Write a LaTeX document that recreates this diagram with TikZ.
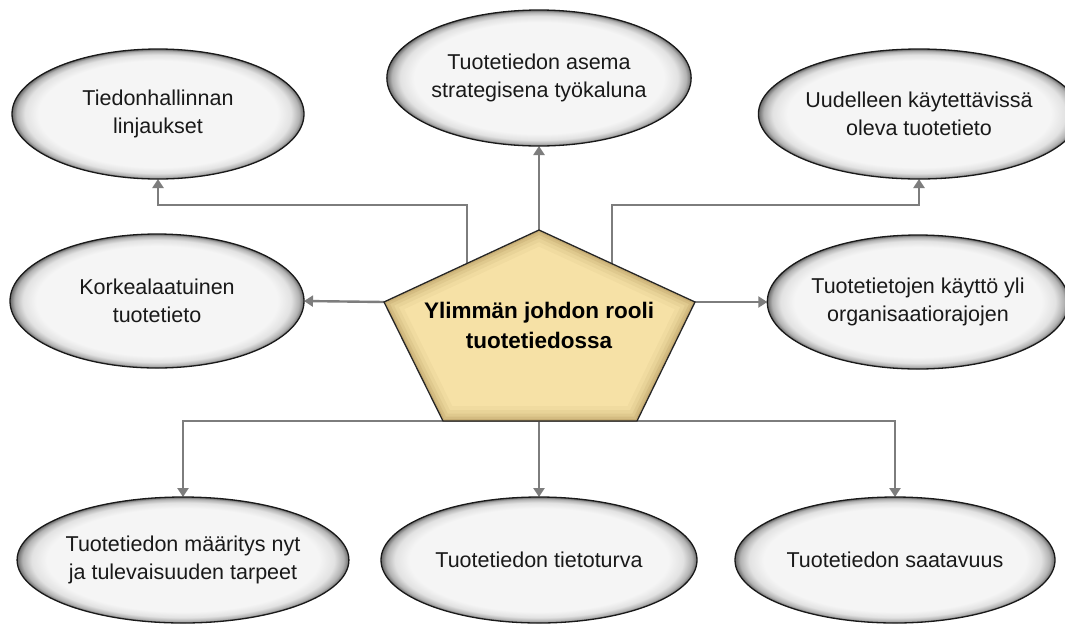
\documentclass[tikz,border=0pt]{standalone}
\usepackage{fontspec}
\setmainfont{Liberation Sans}
\usetikzlibrary{shapes.geometric,arrows.meta,backgrounds}

\definecolor{ovalin}{RGB}{245,245,245}
\definecolor{ovalmid}{RGB}{226,226,226}
\definecolor{ovaldark}{RGB}{178,178,178}
\definecolor{ovalout}{RGB}{105,105,105}
\definecolor{hubfill}{RGB}{246,225,166}
\definecolor{hubedge}{RGB}{140,108,50}
\definecolor{linkc}{RGB}{125,125,125}
\definecolor{textc}{RGB}{25,25,25}

% soft grey rim inside each oval (the path box maps to the 25bp radius)
\pgfdeclareradialshading{ovalglow}{\pgfpoint{0bp}{0bp}}{%
  color(0bp)=(ovalin); color(20.5bp)=(ovalin); color(22.8bp)=(ovalmid);
  color(24.2bp)=(ovaldark); color(25bp)=(ovalout); color(50bp)=(ovalout)}

\tikzset{
  topic/.style={ellipse, draw=black!90, line width=1.3pt, shade, shading=ovalglow,
    inner sep=0pt, outer sep=0pt, align=center, text=textc,
    font=\fontsize{21.5}{28}\selectfont},
  link/.style={draw=linkc, line width=2.4pt, -{Triangle[width=11pt,length=9pt]}},
}

\begin{document}
\begin{tikzpicture}[x=1pt, y=-1pt]
\useasboundingbox (0,0) rectangle (1065,625);

% outer topics
\node[topic, minimum width=292pt, minimum height=130pt] (tl) at (158,114) {Tiedonhallinnan\\linjaukset};
\node[topic, minimum width=292pt, minimum height=136pt] (tc) at (539,78) {Tuotetiedon asema\\strategisena työkaluna};
\node[topic, minimum width=282pt, minimum height=130pt] (tr) at (919,114) {Uudelleen käytettävissä\\oleva tuotetieto};
\node[topic, minimum width=294pt, minimum height=134pt] (ml) at (157,301) {Korkealaatuinen\\tuotetieto};
\node[topic, minimum width=282pt, minimum height=134pt] (mr) at (918,302) {Tuotetietojen käyttö yli\\organisaatiorajojen};
\node[topic, minimum width=316pt, minimum height=126pt] (bl) at (183,560) {Tuotetiedon määritys nyt\\ja tulevaisuuden tarpeet};
\node[topic, minimum width=316pt, minimum height=126pt] (bc) at (539,560) {Tuotetiedon tietoturva};
\node[topic, minimum width=320pt, minimum height=126pt] (br) at (895,560) {Tuotetiedon saatavuus};

% central pentagon
\coordinate (pt)  at (539,230);
\coordinate (pl)  at (384,302);
\coordinate (pr)  at (695,302);
\coordinate (pbl) at (443,421);
\coordinate (pbr) at (637,421);
\def\hubpath{(pt) -- (pr) -- (pbr) -- (pbl) -- (pl) -- cycle}
\fill[hubfill] \hubpath;
\begin{scope}
  \clip \hubpath;
  \foreach \w/\o in {30/0.05, 22/0.07, 15/0.09, 9/0.13, 4/0.18}
    \draw[hubedge, line width=\w pt, opacity=\o] \hubpath;
\end{scope}
\draw[black!85, line width=1.3pt, line join=miter] \hubpath;
\node[align=center, text=black, font=\bfseries\fontsize{22.5}{30}\selectfont] (hub) at (539,325) {Ylimmän johdon rooli\\tuotetiedossa};

% connector anchors on the pentagon
\coordinate (hl) at (467,263.4);
\coordinate (hr) at (612,263.7);
\coordinate (kl) at (467,205);
\coordinate (kr) at (612,205);
\coordinate (hb) at (539,421);

\begin{scope}[on background layer]
  \fill[white] (0,0) rectangle (1065,625);
  \draw[link] (pt) -- (tc.south);
  \draw[link] (hl) -- (kl) -| (tl.south);
  \draw[link] (hr) -- (kr) -| (tr.south);
  \draw[link] (pl) -- (ml.east);
  \draw[link] (pr) -- (mr.west);
  \draw[link] (hb) -| (bl.north);
  \draw[link] (hb) -- (bc.north);
  \draw[link] (hb) -| (br.north);
\end{scope}
\end{tikzpicture}
\end{document}
